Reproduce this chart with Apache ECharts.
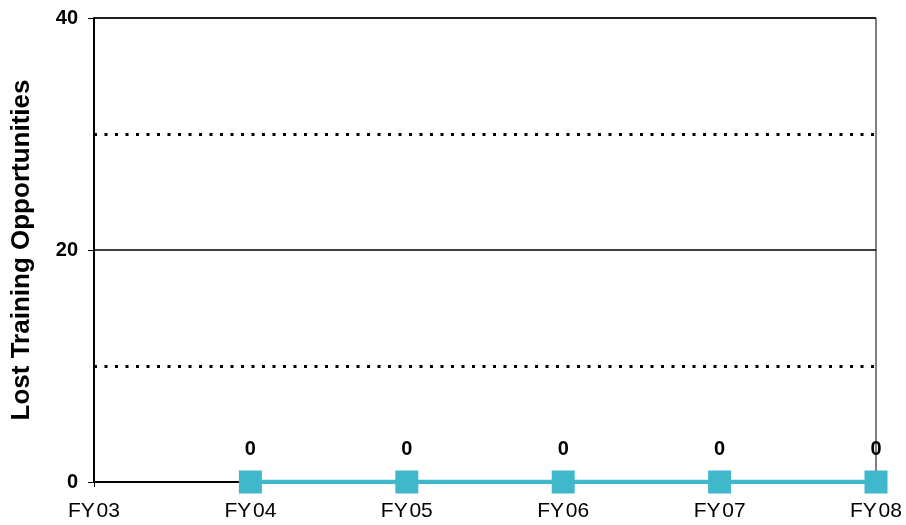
<!DOCTYPE html>
<html>
<head>
<meta charset="utf-8">
<script src="https://cdn.jsdelivr.net/npm/echarts@6/dist/echarts.min.js"></script>
<style>html,body{margin:0;padding:0;background:#fff}#c{width:906px;height:525px}</style>
</head>
<body>
<div id="c"></div>
<script>
const categories = ['FY03', 'FY04', 'FY05', 'FY06', 'FY07', 'FY08'];
const lostTraining = [null, 0, 0, 0, 0, 0];
const yTicks = [0, 20, 40];

const chart = echarts.init(document.getElementById('c'), null, {renderer: 'canvas'});
chart.setOption({
  animation: false,
  backgroundColor: '#fff',
  grid: {left: 94, right: 30, top: 18, bottom: 43, show: true, borderColor: '#000', borderWidth: 1, backgroundColor: 'transparent'},
  xAxis: {
    type: 'category',
    data: categories,
    boundaryGap: false,
    axisLine: {lineStyle: {color: '#000', width: 2}},
    axisTick: {show: true, length: 5, lineStyle: {color: '#000', width: 1}},
    axisLabel: {color: '#000', fontFamily: 'Liberation Sans, Arial', fontSize: 21, margin: 19,
      formatter: v => v.replace('FY', 'FY\u200a')},
    splitLine: {show: false}
  },
  yAxis: {
    type: 'value',
    min: 0, max: 40, interval: 20,
    name: 'Lost Training Opportunities',
    nameLocation: 'middle',
    nameGap: 59,
    nameTextStyle: {color: '#000', fontFamily: 'Liberation Sans, Arial', fontWeight: 'bold', fontSize: 26},
    axisLine: {show: true, lineStyle: {color: '#000', width: 2}},
    axisTick: {show: true, length: 6, lineStyle: {color: '#000', width: 1}},
    axisLabel: {color: '#000', fontFamily: 'Liberation Sans, Arial', fontWeight: 'bold', fontSize: 20, margin: 16,
      formatter: v => yTicks.includes(v) ? String(v) : ''},
    splitLine: {show: true, lineStyle: {color: '#000', width: 1.5}},
    minorTick: {show: false, splitNumber: 2},
    minorSplitLine: {show: true, lineStyle: {color: '#000', width: 3, type: [3, 7.5]}}
  },
  series: [{
    type: 'line',
    data: lostTraining,
    symbol: 'rect',
    symbolSize: 23,
    showAllSymbol: true,
    connectNulls: false,
    lineStyle: {color: '#40B8CC', width: 4.5},
    itemStyle: {color: '#40B8CC'},
    label: {show: true, position: 'top', distance: 11, color: '#000', fontFamily: 'Liberation Sans, Arial', fontWeight: 'bold', fontSize: 20},
    z: 5
  }]
});
</script>
</body>
</html>
